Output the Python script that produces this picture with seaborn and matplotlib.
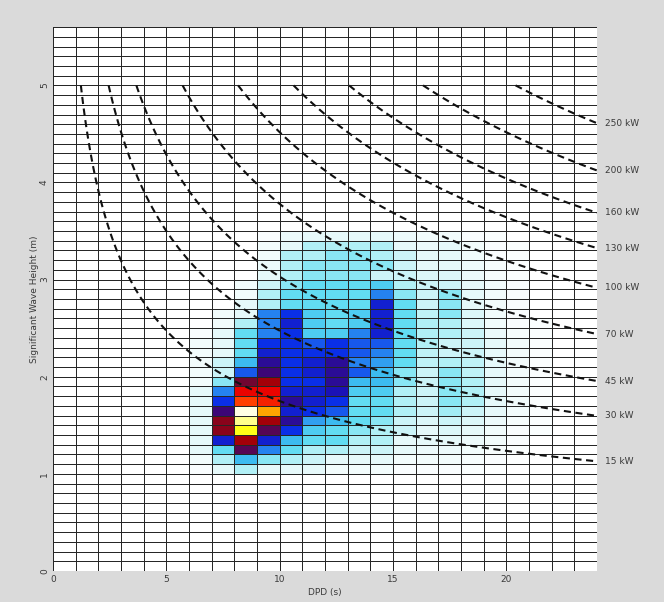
import numpy as np
import matplotlib
matplotlib.use("Agg")
import matplotlib.pyplot as plt
import seaborn as sns
from matplotlib.colors import LinearSegmentedColormap

# peak period bins (s), lower edge of each coloured column
periods = [5, 6, 7, 8, 9, 10, 11, 12, 13, 14, 15, 16, 17, 18, 19, 20, 21, 22]
# significant wave height bins (m), lower edge, top row first
heights = [3.4, 3.3, 3.2, 3.1, 3.0, 2.9, 2.8, 2.7, 2.6, 2.5, 2.4, 2.3, 2.2,
           2.1, 2.0, 1.9, 1.8, 1.7, 1.6, 1.5, 1.4, 1.3, 1.2, 1.1, 1.0]
# relative occurrence (colour level)
occurrence = [
    [0, 0, 0, 0, 0.3, 0.8, 1, 1, 1, 1, 0.8, 0.5, 0.5, 0.3, 0.2, 0, 0, 0],
    [0, 0, 0, 0, 0.5, 1, 2, 2, 2, 2, 1, 0.8, 1, 0.5, 0.3, 0.2, 0, 0],
    [0, 0, 0, 0, 0.6, 2, 2, 2.5, 2.5, 2, 1.5, 1, 1, 0.6, 0.3, 0.2, 0, 0],
    [0, 0, 0, 0, 0.8, 2, 2.5, 2.5, 2.5, 2.5, 1.5, 1, 1, 0.7, 0.4, 0.2, 0, 0],
    [0, 0, 0, 0, 1, 2, 2.5, 2.5, 2.5, 1.5, 1.5, 1.2, 1.2, 0.8, 0.4, 0.2, 0, 0],
    [0, 0, 0, 0.5, 1.5, 2.5, 3, 3, 3, 3.5, 2, 1.5, 1.5, 1, 0.5, 0.3, 0, 0],
    [0, 0, 0, 0.5, 2, 3, 3, 3, 3, 5, 2.5, 1.5, 2.5, 1, 0.5, 0.3, 0, 0],
    [0, 0, 0, 1, 2, 3, 3, 3, 3, 6.5, 3, 1.5, 2.5, 1, 0.5, 0.3, 0, 0],
    [0, 0, 0.5, 1, 5, 6, 3.5, 3, 3.5, 6.5, 3, 1.8, 2.5, 1.2, 0.6, 0.3, 0, 0],
    [0, 0, 0.5, 2, 5, 6.5, 3.5, 3, 3.5, 6.5, 3, 2, 2, 1.2, 0.6, 0.3, 0.2, 0],
    [0, 0.3, 1, 3, 5, 6, 3.5, 3.5, 5, 6.5, 3, 2, 2, 1.5, 0.8, 0.4, 0.2, 0],
    [0, 0.5, 1, 3, 6, 6, 5.5, 6, 5.5, 5.5, 3, 2, 1.5, 1.5, 1, 0.5, 0.2, 0],
    [0, 0.5, 1, 3, 6.5, 6, 6, 6, 5.5, 5, 3, 1.8, 1.5, 1.5, 1, 0.5, 0.2, 0],
    [0, 0.5, 1.5, 4, 7.5, 6, 6.5, 7.5, 5, 4.5, 3, 1.8, 2, 1.8, 1, 0.5, 0.2, 0],
    [0, 0.5, 1.5, 5.5, 8, 6, 6.5, 7.5, 5.5, 4, 2.5, 1.5, 2.5, 1.8, 1, 0.5, 0.2, 0],
    [0, 0.5, 2.5, 9, 10, 6, 6, 7.5, 4, 4, 2.5, 1.5, 2.5, 2, 1, 0.5, 0.2, 0],
    [0, 1, 5, 11, 11, 6.5, 6.5, 7, 3.5, 3.5, 2, 1.5, 2.5, 2, 1, 0.5, 0.2, 0],
    [0, 1, 6, 12, 11.5, 7.5, 6.5, 6, 3, 3, 2, 1.5, 2.5, 2, 1, 0.5, 0.2, 0],
    [0, 1, 8, 16, 13, 6.5, 6, 5.5, 3, 3, 2, 1.5, 2.2, 1.5, 1, 0.5, 0.2, 0],
    [0, 1, 9.5, 15, 10, 7.5, 4.5, 4, 3, 2.5, 1.5, 1.2, 1.5, 1.2, 0.8, 0.4, 0.2, 0],
    [0, 1, 9.5, 14, 8.5, 6, 3.5, 3, 2.5, 2, 1.5, 1, 1.2, 1, 0.6, 0.3, 0.2, 0],
    [0, 1, 6.5, 10, 6.5, 4, 3, 3, 2, 2, 1, 1, 1, 0.8, 0.5, 0.3, 0, 0],
    [0, 1, 3, 8.5, 5, 3, 2, 2, 1.5, 1.5, 1, 0.8, 0.8, 0.6, 0.4, 0.2, 0, 0],
    [0, 0.5, 2, 4, 2.5, 2, 1.5, 1, 1, 1, 0.5, 0.5, 0.5, 0.4, 0.3, 0.1, 0, 0],
    [0, 0.3, 1, 2, 1, 1, 1, 0.5, 0.5, 0.5, 0.3, 0.3, 0.3, 0.2, 0.1, 0, 0, 0],
]

# iso-power lines (kW per metre of crest)
power_levels = [15, 30, 45, 70, 100, 130, 160, 200, 250]

x_ticks = [0, 5, 10, 15, 20]
y_ticks = [0, 1, 2, 3, 4, 5]

# full grid 0..24 s by 0..5.6 m, 1 s by 0.1 m cells
grid = np.zeros((56, 24))
for i, h in enumerate(heights):
    for j, t in enumerate(periods):
        grid[int(round(h * 10)), t] = occurrence[i][j]

levels = [0, 1, 2, 3, 4, 5, 6, 7, 8, 9, 10, 11, 12, 13, 14, 15, 16]
colours = ["#ffffff", "#e6f9fa", "#b2f0f6", "#62dcf2", "#3cbcf0", "#2684f0",
           "#0a30e8", "#1a12b8", "#3a0678", "#6e0632", "#a00008", "#e80000",
           "#ff3a00", "#ffa000", "#ffff10", "#ffff88", "#ffffe4"]
cmap = LinearSegmentedColormap.from_list(
    "scatter", [(v / 16, c) for v, c in zip(levels, colours)])

sns.set_style("white")
plt.rcParams["lines.dashed_pattern"] = [3.4, 2.2]

fig = plt.figure(figsize=(6.64, 6.02), dpi=100, facecolor="#dadada")
ax = fig.add_axes([0.080, 0.0515, 0.819, 0.9035])

sns.heatmap(grid, cmap=cmap, vmin=0, vmax=16, cbar=False,
            linewidths=0.6, linecolor="#262626", ax=ax)
ax.invert_yaxis()

# dashed lines of constant wave power P = 0.49 Hs^2 T
T = np.linspace(0.2, 24, 600)
H = np.linspace(0.05, 5, 600)
TT, HH = np.meshgrid(T, H)
P = 0.49 * HH ** 2 * TT
ax.contour(TT, HH * 10, P, levels=power_levels, colors="#111111",
           linestyles="dashed", linewidths=1.5)

for p in power_levels:
    h_end = np.sqrt(p / (0.49 * 24))
    ax.text(24.35, h_end * 10, f"{p} kW", va="center", ha="left",
            fontsize=6.5, color="#3a3a3a", clip_on=False)

ax.set_xticks(x_ticks)
ax.set_xticklabels([str(v) for v in x_ticks], rotation=0)
ax.set_yticks([v * 10 for v in y_ticks])
ax.set_yticklabels([str(v) for v in y_ticks], rotation=90, va="center")
ax.tick_params(axis="both", length=0, labelsize=6.5, colors="#3a3a3a", pad=3)
ax.set_xlim(0, 24)
ax.set_ylim(0, 56)

ax.set_xlabel("DPD (s)", fontsize=6.5, color="#3a3a3a", labelpad=3)
ax.set_ylabel("Significant Wave Height (m)", fontsize=6.5, color="#3a3a3a",
              labelpad=1)

fig.savefig("out.png", dpi=100, facecolor=fig.get_facecolor())
